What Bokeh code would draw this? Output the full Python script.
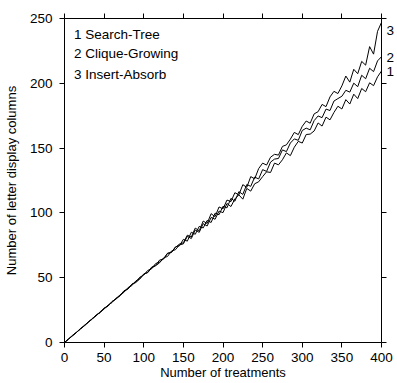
from bokeh.plotting import figure
from bokeh.models import Range1d, LinearAxis, FixedTicker
from bokeh.embed import file_html
from bokeh.resources import INLINE

treatments = list(range(0, 401, 5))

search_tree = [
    0, 2.4, 5.5, 7.9, 10.1, 13.4, 15.3, 18.6, 20.5, 23.8,
    25.7, 28.9, 30.8, 34.2, 36.0, 39.4, 41.2, 44.9, 46.3, 49.0,
    52.7, 53.9, 57.6, 59.2, 61.5, 65.3, 66.4, 70.6, 71.6, 75.3,
    76.1, 81.9, 80.2, 86.8, 85.0, 91.7, 89.9, 96.5, 95.1, 101.4,
    100.2, 107.3, 104.9, 110.8, 113.9, 110.6, 118.9, 116.8, 122.5, 124.0,
    128.0, 131.7, 131.2, 138.4, 137.1, 141.0, 146.3, 144.2, 150.7, 155.2,
    153.9, 160.5, 160.8, 163.2, 169.4, 167.0, 173.9, 171.8, 177.5, 182.3,
    180.2, 187.4, 184.0, 191.6, 188.2, 196.0, 193.5, 200.4, 198.2, 205.0,
    209.5,
]

clique_growing = [
    0, 2.9, 5.0, 7.6, 10.8, 12.7, 15.9, 18.1, 21.3, 23.0,
    26.4, 28.3, 31.7, 33.5, 36.1, 39.9, 41.4, 45.0, 46.7, 50.4,
    52.0, 55.6, 56.9, 60.9, 62.1, 64.6, 68.9, 69.5, 73.8, 74.6,
    79.6, 78.2, 85.1, 83.5, 89.6, 88.4, 94.2, 92.6, 99.8, 98.6,
    105.1, 103.9, 111.2, 109.0, 116.4, 114.3, 121.9, 120.5, 127.6, 126.2,
    133.4, 132.0, 139.2, 141.5, 142.0, 148.6, 147.3, 153.9, 157.1, 156.0,
    163.6, 165.4, 164.1, 171.2, 174.8, 173.5, 180.1, 179.0, 186.3, 188.2,
    190.0, 194.6, 193.2, 200.1, 197.4, 206.2, 203.5, 211.6, 209.0, 217.3,
    220.5,
]

insert_absorb = [
    0, 2.5, 5.4, 7.7, 10.6, 12.8, 16.0, 18.0, 21.1, 23.2,
    26.6, 28.1, 31.5, 33.7, 36.8, 38.7, 42.3, 43.9, 47.5, 49.2,
    52.9, 54.1, 58.2, 59.5, 63.6, 64.4, 68.7, 69.6, 73.4, 75.9,
    77.0, 82.8, 81.4, 88.3, 86.2, 93.7, 91.8, 99.4, 97.1, 104.6,
    103.1, 109.9, 108.7, 115.6, 113.9, 121.8, 119.7, 128.0, 126.3, 134.2,
    138.4, 136.9, 143.0, 145.2, 144.6, 151.3, 152.5, 156.9, 162.1, 160.4,
    166.8, 170.9, 169.2, 176.4, 178.1, 183.7, 182.0, 189.5, 193.8, 192.1,
    198.0, 205.6, 200.9, 210.8, 207.4, 216.9, 214.0, 228.3, 222.5, 240.1,
    247.0,
]

series = [search_tree, clique_growing, insert_absorb]
series_names = ["1 Search-Tree", "2 Clique-Growing", "3 Insert-Absorb"]
end_labels = ["1", "2", "3"]
end_label_y = [209, 220, 241]
legend_y = [238, 223, 207]
legend_x = 12
x_ticks = [0, 50, 100, 150, 200, 250, 300, 350, 400]
y_ticks = [0, 50, 100, 150, 200, 250]

FONT = "Liberation Sans"
FS = "13.5px"
FS_TITLE = "13px"

p = figure(width=397, height=383, output_backend="svg", toolbar_location=None,
           x_range=Range1d(0, 400), y_range=Range1d(0, 250),
           min_border_left=62, min_border_right=12, min_border_top=18,
           min_border_bottom=41)
p.grid.visible = False
p.outline_line_color = None
p.background_fill_color = "white"
p.border_fill_color = "white"

bottom_axis = p.below[0]
left_axis = p.left[0]
bottom_axis.axis_label = "Number of treatments"
left_axis.axis_label = "Number of letter display columns"

top_axis = LinearAxis()
right_axis = LinearAxis()
p.add_layout(top_axis, "above")
p.add_layout(right_axis, "right")


def style(ax, ticks, labels=True):
    ax.ticker = FixedTicker(ticks=ticks)
    ax.minor_tick_line_color = None
    ax.major_tick_in = 0
    ax.major_tick_out = 5
    ax.axis_line_color = "black"
    ax.major_tick_line_color = "black"
    ax.major_label_text_font = FONT
    ax.axis_label_text_font = FONT
    ax.axis_label_text_font_style = "normal"
    ax.axis_label_text_font_size = FS_TITLE
    ax.axis_label_text_color = "black"
    if labels:
        ax.major_label_text_font_size = FS
        ax.major_label_text_color = "black"
    else:
        ax.major_label_text_font_size = "0px"
        ax.major_label_text_color = None
        ax.major_label_standoff = 0


style(bottom_axis, x_ticks)
style(left_axis, y_ticks)
style(top_axis, x_ticks, labels=False)
style(right_axis, y_ticks, labels=False)
bottom_axis.major_label_standoff = 5
bottom_axis.axis_label_standoff = 0
left_axis.major_label_standoff = 7
left_axis.axis_label_standoff = 8

# outer right axis carrying the series end labels "1", "2", "3"
label_axis = LinearAxis(ticker=FixedTicker(ticks=end_label_y),
                        major_label_overrides={v: t for v, t in zip(end_label_y, end_labels)})
label_axis.axis_line_color = None
label_axis.major_tick_line_color = None
label_axis.minor_tick_line_color = None
label_axis.major_tick_out = 0
label_axis.major_tick_in = 0
label_axis.major_label_standoff = 0
label_axis.major_label_text_font = FONT
label_axis.major_label_text_font_size = FS
label_axis.major_label_text_color = "black"
p.add_layout(label_axis, "right")

for ys in series:
    p.line(treatments, ys, line_color="black", line_width=1)

p.text(x=[legend_x] * 3, y=legend_y, text=series_names,
       text_font={"value": FONT}, text_font_size={"value": FS},
       text_color="black", text_baseline="middle", text_align="left")

open("out.html", "w").write(file_html(p, INLINE))
